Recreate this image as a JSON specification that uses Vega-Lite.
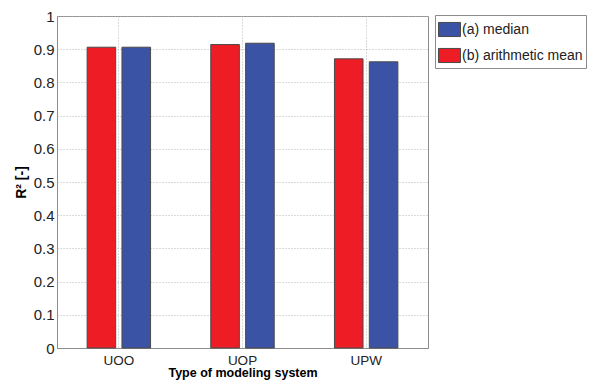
{
  "$schema": "https://vega.github.io/schema/vega-lite/v6.json",
  "autosize": "none",
  "width": 371,
  "height": 332,
  "padding": {"left": 57, "top": 16, "right": 162, "bottom": 32},
  "background": "white",
  "config": {
    "font": "Liberation Sans",
    "view": {"stroke": "#8c8c8c", "strokeWidth": 1}
  },
  "data": {
    "values": [
      {"system": "UOO", "stat": "(b) arithmetic mean", "r2": 0.906},
      {"system": "UOO", "stat": "(a) median", "r2": 0.906},
      {"system": "UOP", "stat": "(b) arithmetic mean", "r2": 0.914},
      {"system": "UOP", "stat": "(a) median", "r2": 0.918},
      {"system": "UPW", "stat": "(b) arithmetic mean", "r2": 0.871},
      {"system": "UPW", "stat": "(a) median", "r2": 0.862}
    ]
  },
  "mark": {"type": "bar", "stroke": "#4a4a4a", "strokeWidth": 1},
  "encoding": {
    "x": {
      "field": "system",
      "type": "nominal",
      "scale": {"paddingInner": 0.487, "paddingOuter": 0.2435},
      "axis": {
        "title": "Type of modeling system",
        "titleFont": "Liberation Sans",
        "titleFontSize": 12.5,
        "titleFontWeight": "bold",
        "titleColor": "#000",
        "titlePadding": 0,
        "labelFont": "Liberation Sans",
        "labelAngle": 0,
        "labelFontSize": 13.5,
        "labelColor": "#222",
        "labelPadding": 5,
        "ticks": false,
        "grid": true,
        "gridColor": "#b4b4b4",
        "gridDash": [1, 2],
        "gridWidth": 1,
        "domainColor": "#8c8c8c"
      }
    },
    "xOffset": {
      "field": "stat",
      "type": "nominal",
      "sort": ["(b) arithmetic mean", "(a) median"],
      "scale": {"paddingInner": 0.18, "paddingOuter": 0}
    },
    "y": {
      "field": "r2",
      "type": "quantitative",
      "scale": {"domain": [0, 1], "nice": false},
      "axis": {
        "title": "R² [-]",
        "titleFont": "Liberation Sans",
        "titleFontSize": 14,
        "titleFontWeight": "bold",
        "titleColor": "#000",
        "titlePadding": 5,
        "values": [0, 0.1, 0.2, 0.3, 0.4, 0.5, 0.6, 0.7, 0.8, 0.9, 1],
        "format": "~g",
        "labelFont": "Liberation Sans",
        "labelFontSize": 15,
        "labelColor": "#222",
        "labelPadding": 3,
        "ticks": false,
        "grid": true,
        "gridColor": "#b4b4b4",
        "gridDash": [1, 2],
        "gridWidth": 1,
        "domainColor": "#8c8c8c"
      }
    },
    "color": {
      "field": "stat",
      "type": "nominal",
      "scale": {
        "domain": ["(a) median", "(b) arithmetic mean"],
        "range": ["#3a53a4", "#ee1c25"]
      },
      "legend": {
        "title": null,
        "orient": "none",
        "legendX": 378,
        "legendY": -1,
        "strokeColor": "#8c8c8c",
        "fillColor": "white",
        "padding": 3,
        "labelFont": "Liberation Sans",
        "labelFontSize": 14,
        "labelColor": "#222",
        "labelOffset": 1,
        "rowPadding": 5,
        "symbolType": "M-1,-0.64L1,-0.64L1,0.64L-1,0.64Z",
        "symbolSize": 484,
        "symbolStrokeColor": "#4a4a4a",
        "symbolStrokeWidth": 1,
        "symbolOpacity": 1,
        "labelLimit": 200
      }
    }
  }
}
